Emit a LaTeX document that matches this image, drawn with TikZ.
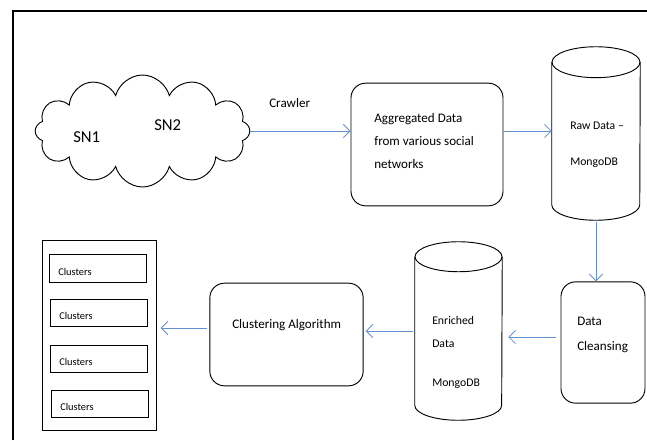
\documentclass[tikz,border=0pt]{standalone}
\usepackage{fontspec}
\setmainfont{Carlito}
\usetikzlibrary{shapes.symbols,arrows.meta}
\definecolor{arrowblue}{RGB}{100,144,204}
\begin{document}
\begin{tikzpicture}[x=0.75pt,y=-0.75pt,
  flow/.style={draw=arrowblue,line width=0.65pt,-{Straight Barb[length=5pt,width=10pt]}},
  box/.style={draw,rounded corners=11pt,line width=0.7pt,inner sep=0pt},
  db/.style={inner sep=0pt},
  dbline/.style={line width=0.7pt},
  item/.style={draw,line width=0.7pt,minimum width=72.75pt,minimum height=20.6pt,inner sep=0pt},
  txt/.style={anchor=base west,inner sep=0pt,font=\fontsize{9.8}{12}\selectfont},
  small/.style={anchor=base west,inner sep=0pt,font=\fontsize{7.8}{9}\selectfont},
  dbtxt/.style={anchor=base west,inner sep=0pt,font=\fontsize{8.8}{10}\selectfont}]
  \useasboundingbox (0,0) rectangle (647,440);
  \draw[line width=1.5pt] (13,440) -- (13,11) -- (647,11);

  % top row
  \node[cloud,draw,cloud puffs=12,aspect=2,inner sep=0pt,line width=0.7pt,
        minimum width=161pt,minimum height=84pt] (cloud) at (142.5,131) {};
  \node[anchor=base west,inner sep=0pt,font=\fontsize{12.5}{15}\selectfont] (sn1) at (73,142) {SN1};
  \node[anchor=base west,inner sep=0pt,font=\fontsize{12.5}{15}\selectfont] (sn2) at (154,130) {SN2};
  \node[txt] (crawler) at (269,107) {Crawler};
  \node[box,minimum width=114pt,minimum height=92pt] (agg) at (427,144.5) {};
  \node[txt] (agg1) at (374,122) {Aggregated Data};
  \node[txt] (agg2) at (374,145) {from various social};
  \node[txt] (agg3) at (374,168) {networks};
  \node[db,minimum width=66pt,minimum height=129.75pt] (raw) at (596,133.5) {};
  \draw[dbline] ([yshift=-11.6pt]raw.north) ellipse [x radius=33pt,y radius=11.6pt];
  \draw[dbline] ([yshift=-11.6pt]raw.north west) -- ([yshift=11.6pt]raw.south west)
    arc[start angle=180,end angle=360,x radius=33pt,y radius=11.6pt] -- ([yshift=-11.6pt]raw.north east);
  \node[dbtxt] (raw1) at (570,129) {Raw Data --};
  \node[dbtxt] (raw2) at (570,165) {MongoDB};

  % bottom row
  \node[box,minimum width=63pt,minimum height=91pt] (clean) at (603,342.5) {};
  \node[txt] (clean1) at (577,325) {Data};
  \node[txt] (clean2) at (577,350) {Cleansing};
  \node[db,minimum width=65.25pt,minimum height=133.5pt] (enrich) at (458.5,331) {};
  \draw[dbline] ([yshift=-11.25pt]enrich.north) ellipse [x radius=32.6pt,y radius=11.25pt];
  \draw[dbline] ([yshift=-11.25pt]enrich.north west) -- ([yshift=11.25pt]enrich.south west)
    arc[start angle=180,end angle=360,x radius=32.6pt,y radius=11.25pt] -- ([yshift=-11.25pt]enrich.north east);
  \node[dbtxt] (enrich1) at (432,324) {Enriched};
  \node[dbtxt] (enrich2) at (432,347) {Data};
  \node[dbtxt] (enrich3) at (432,386) {MongoDB};
  \node[box,minimum width=115pt,minimum height=77pt] (algo) at (286.5,334.5) {};
  \node[txt] (algo1) at (232,328) {Clustering Algorithm};
  \node[draw,line width=0.7pt,minimum width=85pt,minimum height=142pt,inner sep=0pt] (list) at (99.5,335.5) {};
  \node[item] (c1) at (97.5,268.5) {};
  \node[item] (c2) at (98.5,313) {};
  \node[item] (c3) at (98.5,359) {};
  \node[item] (c4) at (99.5,404) {};
  \node[small] (c1t) at (58,275) {Clusters};
  \node[small] (c2t) at (59,319) {Clusters};
  \node[small] (c3t) at (59,365) {Clusters};
  \node[small] (c4t) at (60,410) {Clusters};

  % connectors
  \draw[flow] (cloud.east) -- (agg.west |- cloud.east);
  \draw[flow] (agg.east |- 0,131) -- (raw.west |- 0,131);
  \draw[flow,shorten <=1pt] (raw.south) -- (raw.south |- clean.north);
  \draw[flow,shorten <=3.5pt,shorten >=4.5pt] (clean.west |- 0,337) -- (enrich.east |- 0,337);
  \draw[flow,shorten <=1.5pt,shorten >=1.5pt] (enrich.west |- 0,331) -- (algo.east |- 0,331);
  \draw[flow,shorten <=2pt,shorten >=3pt] (algo.west |- 0,328) -- (list.east |- 0,328);
\end{tikzpicture}
\end{document}
